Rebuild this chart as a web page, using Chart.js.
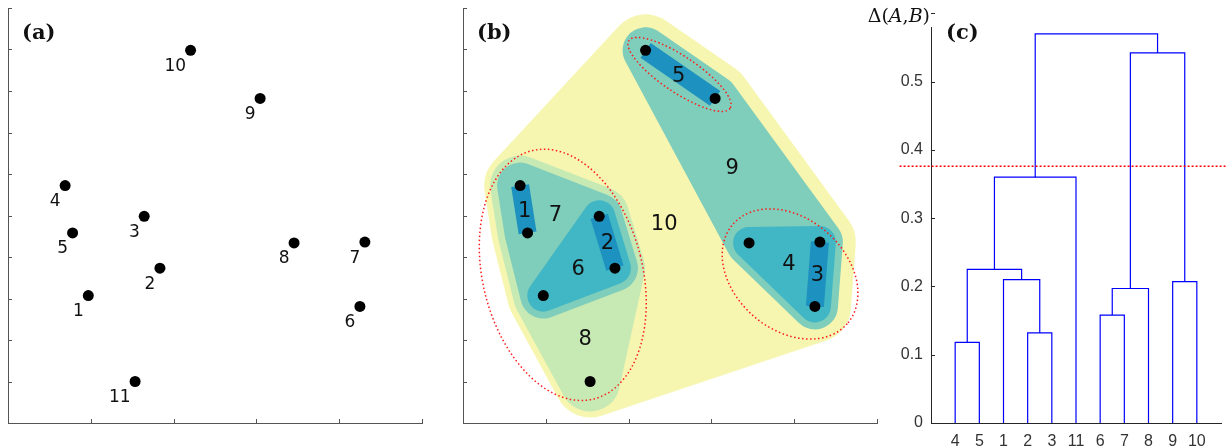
<!DOCTYPE html>
<html>
<head>
<meta charset="utf-8">
<title>Hierarchical clustering</title>
<script src="https://cdn.jsdelivr.net/npm/chart.js@4.4.1/dist/chart.umd.min.js"></script>
<style>
  html, body { margin: 0; padding: 0; background: #fff; }
  #wrap { position: relative; width: 1230px; height: 448px; overflow: hidden; }
  canvas { position: absolute; top: 0; }
</style>
</head>
<body>
<div id="wrap">
  <canvas id="ca" width="440" height="448" style="left:0"></canvas>
  <canvas id="cb" width="440" height="448" style="left:455px"></canvas>
  <canvas id="cc" width="370" height="448" style="left:860px"></canvas>
</div>
<script>
// points (label i sits at index i-1)
const ptLabels = [1, 2, 3, 4, 5, 6, 7, 8, 9, 10, 11];
const ptX = [0.194, 0.367, 0.329, 0.138, 0.156, 0.850, 0.862, 0.691, 0.609, 0.441, 0.307];
const ptY = [0.307, 0.373, 0.498, 0.572, 0.458, 0.281, 0.436, 0.434, 0.782, 0.898, 0.100];

// merges, in order; ids 12.. are the merged clusters (12 = merge 1)
const mergeA = [4, 2, 6, 14, 9, 1, 12, 18, 15, 19];
const mergeB = [5, 3, 7, 8, 10, 13, 17, 11, 16, 20];
const mergeH = [0.118, 0.132, 0.158, 0.197, 0.207, 0.210, 0.225, 0.360, 0.542, 0.570];

// dendrogram leaf order (x tick labels)
const leafOrder = [4, 5, 1, 2, 3, 11, 6, 7, 8, 9, 10];
const cutHeight = 0.376;
const cutFrom = -1.3, cutTo = 12.2;

// where the cluster numbers sit in panel (b)
const clusterTextX = [0.149, 0.349, 0.856, 0.787, 0.521, 0.278, 0.223, 0.295, 0.650, 0.486];
const clusterTextY = [0.514, 0.438, 0.360, 0.386, 0.839, 0.375, 0.506, 0.207, 0.618, 0.483];

// dotted ellipses round the clusters below the cut
const ellCx = [0.523, 0.790, 0.241];
const ellCy = [0.840, 0.359, 0.357];
const ellRx = [0.147, 0.183, 0.193];
const ellRy = [0.0435, 0.1345, 0.309];
const ellRot = [33.8, 41, -14];

const axisColor = '#555';
const depthColor = ['#1d91c0', '#41b6c4', '#7fcdbb', '#c7e9b4', '#f6f6b1'];
const depthRadius = [9, 16, 23, 30, 36];

// tree bookkeeping
const members = {}, depth = {}, height = {}, pos = {};
ptLabels.forEach(p => { members[p] = [p]; depth[p] = 0; height[p] = 0; pos[p] = leafOrder.indexOf(p) + 1; });
mergeA.forEach((a, k) => {
  const b = mergeB[k], id = ptLabels.length + 1 + k;
  members[id] = members[a].concat(members[b]);
  depth[id] = Math.max(depth[a], depth[b]) + 1;
  height[id] = mergeH[k];
  pos[id] = (pos[a] + pos[b]) / 2;
});

function hull(ids) {
  const p = ids.map(i => ({ x: ptX[i - 1], y: ptY[i - 1] })).sort((a, b) => a.x - b.x || a.y - b.y);
  if (p.length < 3) return p;
  const cross = (o, a, b) => (a.x - o.x) * (b.y - o.y) - (a.y - o.y) * (b.x - o.x);
  const lo = [], up = [];
  for (const q of p) { while (lo.length >= 2 && cross(lo[lo.length - 2], lo[lo.length - 1], q) <= 0) lo.pop(); lo.push(q); }
  for (const q of p.slice().reverse()) { while (up.length >= 2 && cross(up[up.length - 2], up[up.length - 1], q) <= 0) up.pop(); up.push(q); }
  lo.pop(); up.pop();
  const h = lo.concat(up);
  h.push(h[0]);
  return h;
}

const inTicks = {
  id: 'inTicks',
  afterDraw(chart, args, o) {
    const ctx = chart.ctx, a = chart.chartArea;
    ctx.save();
    ctx.strokeStyle = o.color; ctx.lineWidth = 1;
    ctx.beginPath();
    for (const id of o.axes || []) {
      const s = chart.scales[id];
      const vals = s.ticks.map(t => t.value).concat((o.extra && o.extra[id]) || []);
      for (const v of vals) {
        const p = Math.round(s.getPixelForValue(v)) + 0.5;
        if (s.isHorizontal()) { ctx.moveTo(p, a.bottom); ctx.lineTo(p, a.bottom - o.len); }
        else { ctx.moveTo(a.left, p); ctx.lineTo(a.left + o.len, p); }
      }
    }
    ctx.stroke();
    ctx.restore();
  }
};

const panelTag = {
  id: 'panelTag',
  afterDraw(chart, args, o) {
    const ctx = chart.ctx;
    ctx.save();
    ctx.font = 'bold 21px "DejaVu Serif"';
    ctx.fillStyle = '#111';
    ctx.textBaseline = 'alphabetic';
    ctx.fillText(o.text, o.x, o.y);
    ctx.restore();
  }
};

const hullFill = {
  id: 'hullFill',
  beforeDatasetDraw(chart, args) {
    const ds = chart.data.datasets[args.index];
    if (!ds.hullFill) return;
    const ctx = chart.ctx;
    ctx.save();
    ctx.beginPath();
    args.meta.data.forEach((el, i) => i ? ctx.lineTo(el.x, el.y) : ctx.moveTo(el.x, el.y));
    ctx.closePath();
    ctx.fillStyle = ds.hullFill;
    ctx.fill();
    ctx.restore();
  }
};

function squareOpts(tag) {
  const axis = (step) => ({
    min: 0, max: 1,
    ticks: { display: false, stepSize: step },
    grid: { display: false, drawTicks: false },
    border: { color: axisColor }
  });
  return {
    responsive: false, animation: false, devicePixelRatio: 1,
    layout: { autoPadding: false, padding: { left: 8, top: 8, right: 18, bottom: 25 } },
    plugins: {
      legend: { display: false }, tooltip: { enabled: false },
      panelTag: { text: tag, x: 22, y: 39 },
      inTicks: { axes: ['x', 'y'], len: 4, color: axisColor }
    },
    scales: { x: axis(0.2), y: axis(0.1) }
  };
}

const pointSet = () => ({
  type: 'scatter', order: 0,
  data: ptX.map((x, i) => ({ x, y: ptY[i] })),
  pointRadius: 5.5, pointHoverRadius: 5.5, backgroundColor: '#000', borderWidth: 0
});

// (a) the points
new Chart(document.getElementById('ca'), {
  type: 'scatter',
  data: { datasets: [pointSet()] },
  options: squareOpts('(a)'),
  plugins: [inTicks, panelTag, {
    id: 'pointNames',
    afterDatasetsDraw(chart) {
      const ctx = chart.ctx;
      ctx.save();
      ctx.font = '17px "DejaVu Sans"';
      ctx.fillStyle = '#111';
      ctx.textAlign = 'right';
      ctx.textBaseline = 'alphabetic';
      chart.getDatasetMeta(0).data.forEach((el, i) => ctx.fillText(String(ptLabels[i]), el.x - 4.5, el.y + 20.5));
      ctx.restore();
    }
  }]
});

// (b) nested hulls of every merge
const hullSets = mergeA.map((a, k) => {
  const id = ptLabels.length + 1 + k, d = depth[id];
  const pts = hull(members[id]);
  const bar = pts.length === 2;
  return {
    type: 'line', data: pts, order: d + 1,
    borderColor: depthColor[d - 1], hullFill: bar ? null : depthColor[d - 1],
    borderWidth: depthRadius[d - 1] * 2,
    borderJoinStyle: 'round', borderCapStyle: bar ? 'butt' : 'round',
    pointRadius: 0, pointHoverRadius: 0, fill: false, tension: 0, clip: false
  };
});

new Chart(document.getElementById('cb'), {
  type: 'scatter',
  data: { datasets: [pointSet(), ...hullSets] },
  options: squareOpts('(b)'),
  plugins: [hullFill, inTicks, panelTag, {
    id: 'clusterNotes',
    afterDatasetsDraw(chart) {
      const ctx = chart.ctx, sx = chart.scales.x, sy = chart.scales.y;
      const k = sx.getPixelForValue(1) - sx.getPixelForValue(0);
      ctx.save();
      ctx.strokeStyle = '#ff1a1a';
      ctx.lineWidth = 1.5;
      ctx.setLineDash([1.5, 2.5]);
      ellCx.forEach((cx, i) => {
        ctx.beginPath();
        ctx.ellipse(sx.getPixelForValue(cx), sy.getPixelForValue(ellCy[i]), ellRx[i] * k, ellRy[i] * k,
          ellRot[i] * Math.PI / 180, 0, 2 * Math.PI);
        ctx.stroke();
      });
      ctx.setLineDash([]);
      ctx.font = '21px "DejaVu Sans"';
      ctx.fillStyle = '#111';
      ctx.textAlign = 'center';
      ctx.textBaseline = 'alphabetic';
      clusterTextX.forEach((x, i) => {
        ctx.fillText(String(i + 1), sx.getPixelForValue(x), sy.getPixelForValue(clusterTextY[i]) + 7.6);
      });
      ctx.restore();
    }
  }]
});

// (c) dendrogram
const cAxis = '#262626';
const tickFont = { family: '"Liberation Sans", Arial, sans-serif', size: 16 };
const linkSets = mergeA.map((a, k) => {
  const b = mergeB[k], h = mergeH[k];
  return {
    type: 'line', order: 1,
    data: [{ x: pos[a], y: height[a] }, { x: pos[a], y: h }, { x: pos[b], y: h }, { x: pos[b], y: height[b] }],
    borderColor: '#0000ff', borderWidth: 1.2, pointRadius: 0, pointHoverRadius: 0,
    tension: 0, fill: false, clip: false
  };
});
const cutSet = {
  type: 'line', order: 0,
  data: [{ x: cutFrom, y: cutHeight }, { x: cutTo, y: cutHeight }],
  borderColor: '#ff0000', borderWidth: 1.4, borderDash: [2, 2],
  pointRadius: 0, pointHoverRadius: 0, fill: false, clip: false
};

new Chart(document.getElementById('cc'), {
  type: 'scatter',
  data: { datasets: [cutSet, ...linkSets] },
  options: {
    responsive: false, animation: false, devicePixelRatio: 1,
    layout: { autoPadding: false, padding: { left: 0, top: 27, right: 4, bottom: 0 } },
    plugins: {
      legend: { display: false }, tooltip: { enabled: false },
      panelTag: { text: '(c)', x: 86, y: 39 },
      inTicks: { axes: ['y'], len: 4, color: cAxis, extra: { y: [0.6] } }
    },
    scales: {
      x: {
        min: 0, max: 12,
        afterFit(s) { s.height = 25; },
        ticks: {
          stepSize: 1, autoSkip: false, maxRotation: 0, padding: 9,
          font: tickFont, color: '#333',
          callback: v => (leafOrder[v - 1] !== undefined ? String(leafOrder[v - 1]) : '')
        },
        grid: { display: false, drawTicks: false },
        border: { color: cAxis }
      },
      y: {
        min: 0, max: 0.58,
        afterFit(s) { s.width = 71; },
        ticks: { stepSize: 0.1, includeBounds: false, padding: 8, font: tickFont, color: '#333' },
        grid: { display: false, drawTicks: false },
        border: { color: cAxis }
      }
    }
  },
  plugins: [inTicks, panelTag, {
    id: 'yName',
    afterDraw(chart) {
      const ctx = chart.ctx;
      const parts = [['Δ(', ''], ['A', 'italic '], [',', ''], ['B', 'italic '], [')', '']];
      const right = chart.chartArea.left - 1;
      const base = chart.scales.y.getPixelForValue(0.6) + 8.5;
      ctx.save();
      ctx.fillStyle = '#111';
      ctx.textBaseline = 'alphabetic';
      let w = 0;
      parts.forEach(([t, st]) => { ctx.font = st + '19px "DejaVu Serif"'; w += ctx.measureText(t).width; });
      let x = right - w;
      parts.forEach(([t, st]) => {
        ctx.font = st + '19px "DejaVu Serif"';
        ctx.fillText(t, x, base);
        x += ctx.measureText(t).width;
      });
      ctx.restore();
    }
  }]
});
</script>
</body>
</html>
